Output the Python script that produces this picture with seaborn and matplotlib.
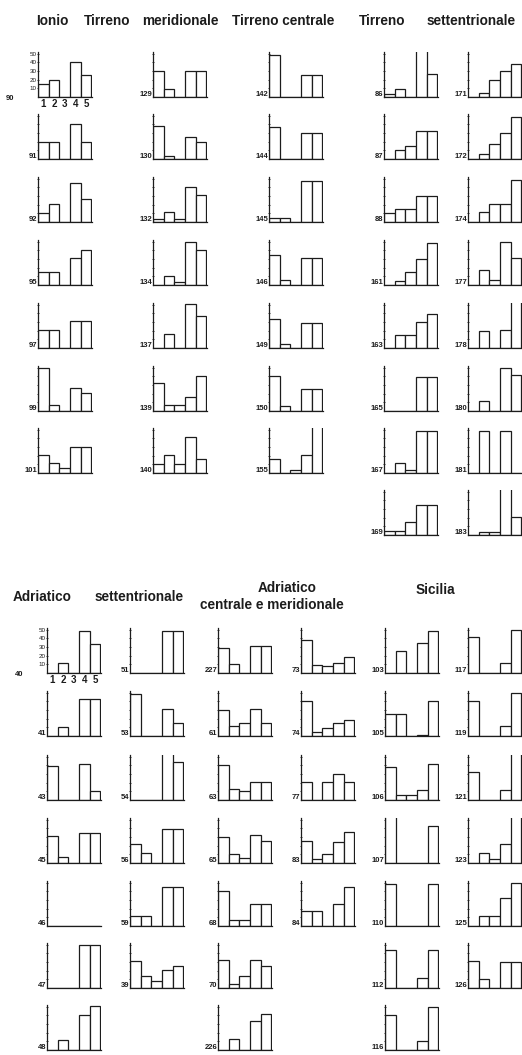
import matplotlib
matplotlib.use('Agg')
import matplotlib.pyplot as plt
import seaborn as sns

sns.set_style('white')
plt.rcParams['font.family'] = ['Liberation Sans', 'DejaVu Sans']

bins = ['1', '2', '3', '4', '5']

# upper block: one list of station ids and one list of 5-class percentages per column
ionio_ids = [90, 91, 92, 95, 97, 99, 101]
ionio_vals = [[15, 20, 0, 40, 26], [20, 20, 0, 40, 20], [10, 21, 0, 45, 27], [15, 15, 0, 31, 41],
              [21, 21, 0, 31, 31], [50, 7, 0, 27, 21], [21, 11, 6, 30, 30]]

tmerid_ids = [129, 130, 132, 134, 137, 139, 140]
tmerid_vals = [[30, 9, 0, 30, 30], [38, 3, 0, 25, 20], [4, 11, 4, 40, 31], [0, 10, 4, 50, 41],
               [0, 16, 0, 51, 37], [32, 7, 7, 16, 41], [10, 21, 10, 42, 16]]

tcentr_ids = [142, 144, 145, 146, 149, 150, 155]
tcentr_vals = [[49, 0, 0, 25, 25], [37, 0, 0, 30, 30], [5, 5, 0, 47, 47], [35, 6, 0, 31, 31],
               [33, 5, 0, 29, 29], [40, 6, 0, 25, 25], [16, 0, 4, 21, 59]]

tsett1_ids = [86, 87, 88, 161, 163, 165, 167, 169]
tsett1_vals = [[4, 9, 0, 60, 27], [0, 10, 15, 32, 32], [10, 15, 15, 30, 30], [0, 5, 15, 30, 49],
               [0, 15, 15, 30, 39], [0, 0, 0, 39, 39], [0, 11, 4, 48, 48], [5, 5, 15, 35, 35]]

tsett2_ids = [171, 172, 174, 177, 178, 180, 181, 183]
tsett2_vals = [[0, 5, 20, 30, 38], [0, 6, 17, 30, 49], [0, 12, 21, 21, 48], [0, 17, 6, 50, 31],
               [0, 20, 0, 21, 59], [0, 12, 0, 50, 42], [0, 48, 0, 48, 0], [0, 4, 4, 71, 21]]

# lower block
asett1_ids = [40, 41, 43, 45, 46, 47, 48]
asett1_vals = [[0, 12, 0, 48, 33], [0, 10, 0, 43, 43], [39, 0, 0, 42, 10], [31, 7, 0, 35, 35],
               [0, 0, 0, 0, 0], [0, 0, 0, 50, 50], [0, 11, 0, 40, 51]]

asett2_ids = [51, 53, 54, 56, 59, 39]
asett2_vals = [[0, 0, 0, 48, 48], [49, 0, 0, 31, 15], [0, 0, 0, 56, 44], [22, 12, 0, 39, 39],
               [11, 11, 0, 45, 45], [31, 14, 8, 21, 26]]

acm1_ids = [227, 61, 63, 65, 68, 70, 226]
acm1_vals = [[29, 10, 0, 31, 31], [30, 12, 15, 31, 15], [40, 13, 10, 21, 21], [30, 10, 6, 32, 26],
             [40, 7, 7, 26, 26], [32, 5, 14, 32, 25], [0, 13, 0, 34, 42]]

acm2_ids = [73, 74, 77, 83, 84]
acm2_vals = [[38, 9, 8, 12, 19], [41, 5, 9, 15, 19], [21, 0, 21, 30, 21], [26, 5, 10, 24, 36],
             [17, 17, 0, 26, 45]]

sic1_ids = [103, 105, 106, 107, 110, 112, 116]
sic1_vals = [[0, 25, 0, 35, 49], [26, 26, 0, 1.5, 41], [38, 6, 6, 11, 42], [57, 0, 0, 0, 43],
             [48, 0, 0, 0, 48], [44, 0, 0, 11, 44], [40, 0, 0, 10, 50]]

sic2_ids = [117, 119, 121, 123, 125, 126]
sic2_vals = [[42, 0, 0, 11, 50], [41, 0, 0, 11, 50], [32, 0, 0, 11, 57], [0, 12, 5, 22, 61],
             [0, 12, 12, 32, 50], [31, 10, 0, 30, 30]]

W, H = 522, 1055
INK = '#1c1c1c'
fig = plt.figure(figsize=(W / 100, H / 100), dpi=100)


def small_hist(x_px, base_px, label, vals, first=False):
    ax = fig.add_axes([x_px / W, 1 - base_px / H, 54 / W, 45 / H])
    ax.patch.set_visible(False)
    sns.barplot(x=bins, y=vals, ax=ax, color='white', edgecolor=INK, linewidth=0.9,
                width=1.0, saturation=1, errorbar=None)
    ax.set_xlim(-0.5, 4.55)
    ax.set_ylim(0, 52)
    ax.set_xlabel('')
    ax.set_ylabel('')
    for s in ['top', 'right']:
        ax.spines[s].set_visible(False)
    for s in ['left', 'bottom']:
        ax.spines[s].set_color(INK)
        ax.spines[s].set_linewidth(0.9)
    ax.set_yticks([10, 20, 30, 40, 50])
    ax.tick_params(axis='y', left=True, length=1.6, width=0.6, direction='inout',
                   color=INK, labelsize=4.5, pad=0.3, labelcolor=INK)
    if first:
        ax.set_yticklabels(['10', '20', '30', '40', '50'])
        ax.tick_params(axis='x', bottom=False, length=0, labelsize=7, pad=1.5, labelcolor=INK)
        for t in ax.get_xticklabels():
            t.set_fontweight('bold')
        off = -17
        va = 'center'
    else:
        ax.set_yticklabels([])
        ax.set_xticks([])
        off = -0.5
        va = 'bottom'
    ax.annotate(str(label), xy=(0, 0), xycoords='axes fraction', xytext=(off, -1),
                textcoords='offset points', ha='right', va=va, fontsize=5.5,
                fontweight='bold', color=INK)


top_rows = [97, 159, 222, 285, 348, 411, 473, 535]
top_cols = [(38, ionio_ids, ionio_vals), (153, tmerid_ids, tmerid_vals),
            (269, tcentr_ids, tcentr_vals), (384, tsett1_ids, tsett1_vals),
            (468, tsett2_ids, tsett2_vals)]
for ci, (xp, ids, vals) in enumerate(top_cols):
    for ri, (lab, v) in enumerate(zip(ids, vals)):
        small_hist(xp, top_rows[ri], lab, v, first=(ci == 0 and ri == 0))

bot_rows = [673, 736, 800, 863, 926, 988, 1050]
bot_cols = [(47, asett1_ids, asett1_vals), (130, asett2_ids, asett2_vals),
            (218, acm1_ids, acm1_vals), (301, acm2_ids, acm2_vals),
            (385, sic1_ids, sic1_vals), (468, sic2_ids, sic2_vals)]
for ci, (xp, ids, vals) in enumerate(bot_cols):
    for ri, (lab, v) in enumerate(zip(ids, vals)):
        small_hist(xp, bot_rows[ri], lab, v, first=(ci == 0 and ri == 0))

# region headings
def head(x_px, y_px, s):
    fig.text(x_px / W, 1 - y_px / H, s, ha='center', va='center', fontsize=9.8,
             fontweight='bold', color=INK)

head(52, 21, 'Ionio')
head(107, 21, 'Tirreno')
head(180, 21, 'meridionale')
head(283, 21, 'Tirreno centrale')
head(382, 21, 'Tirreno')
head(471, 21, 'settentrionale')

head(42, 597, 'Adriatico')
head(139, 597, 'settentrionale')
head(287, 588, 'Adriatico')
head(272, 605, 'centrale e meridionale')
head(435, 590, 'Sicilia')

fig.savefig('out.png', dpi=100, facecolor='white')
